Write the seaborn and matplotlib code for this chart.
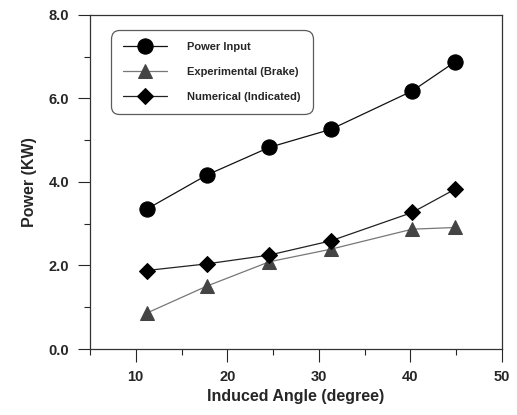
import matplotlib
matplotlib.use("Agg")
import matplotlib.pyplot as plt
from matplotlib.ticker import MultipleLocator, FormatStrFormatter
import pandas as pd
import seaborn as sns

angle = [11.2, 17.8, 24.6, 31.3, 40.2, 44.9]
power_input = [3.35, 4.17, 4.83, 5.26, 6.18, 6.88]
experimental = [0.86, 1.51, 2.09, 2.39, 2.87, 2.91]
numerical = [1.88, 2.04, 2.25, 2.59, 3.27, 3.83]

series_names = ["Power Input", "Experimental (Brake)", "Numerical (Indicated)"]

sns.set_theme(style="ticks")
plt.rcParams["font.family"] = ["Liberation Sans", "DejaVu Sans"]
plt.rcParams["font.weight"] = "bold"

df = pd.DataFrame({
    "angle": angle * 3,
    "power": power_input + experimental + numerical,
    "series": [series_names[0]] * 6 + [series_names[1]] * 6 + [series_names[2]] * 6,
})

fig = plt.figure(figsize=(5.17, 4.15), dpi=100)
ax = fig.add_axes([0.174, 0.159, 0.797, 0.805])

styles = {
    "Power Input": dict(marker="o", color="#111111", markersize=11, lw=0.9, mfc="black", mec="black"),
    "Experimental (Brake)": dict(marker="^", color="#777777", markersize=10, lw=0.9, mfc="#444444", mec="#444444"),
    "Numerical (Indicated)": dict(marker="D", color="#222222", markersize=8.5, lw=0.9, mfc="black", mec="black"),
}
for name in series_names:
    st = styles[name]
    sub = df[df["series"] == name]
    sns.lineplot(data=sub, x="angle", y="power", ax=ax, label=name,
                 marker=st["marker"], color=st["color"], markersize=st["markersize"],
                 linewidth=st["lw"], markerfacecolor=st["mfc"], markeredgecolor=st["mec"])

ax.set_xlim(5, 50)
ax.set_ylim(0, 8)
ax.xaxis.set_major_locator(MultipleLocator(10))
ax.xaxis.set_minor_locator(MultipleLocator(5))
ax.yaxis.set_major_locator(MultipleLocator(2))
ax.yaxis.set_minor_locator(MultipleLocator(1))
ax.yaxis.set_major_formatter(FormatStrFormatter("%.1f"))
ax.tick_params(which="major", length=9, width=0.8, direction="out", labelsize=10.5, pad=6)
ax.tick_params(which="minor", length=4, width=0.8, direction="out")
for lab in ax.get_xticklabels() + ax.get_yticklabels():
    lab.set_fontweight("bold")
for sp in ax.spines.values():
    sp.set_linewidth(0.9)
    sp.set_color("#333333")

ax.set_xlabel("Induced Angle (degree)", fontsize=11.5, fontweight="bold", labelpad=4)
ax.set_ylabel("Power (KW)", fontsize=11.5, fontweight="bold", labelpad=8)

leg = ax.legend(loc="upper left", bbox_to_anchor=(0.05, 0.955), fontsize=8,
                handlelength=4, handletextpad=1.8, borderpad=1.1, labelspacing=1.35,
                borderaxespad=0, frameon=True, fancybox=True, edgecolor="#333333")
leg.get_frame().set_linewidth(0.9)
leg.get_frame().set_boxstyle("round", pad=0, rounding_size=0.8)
for t in leg.get_texts():
    t.set_fontweight("bold")

fig.savefig("out.png", dpi=100)
